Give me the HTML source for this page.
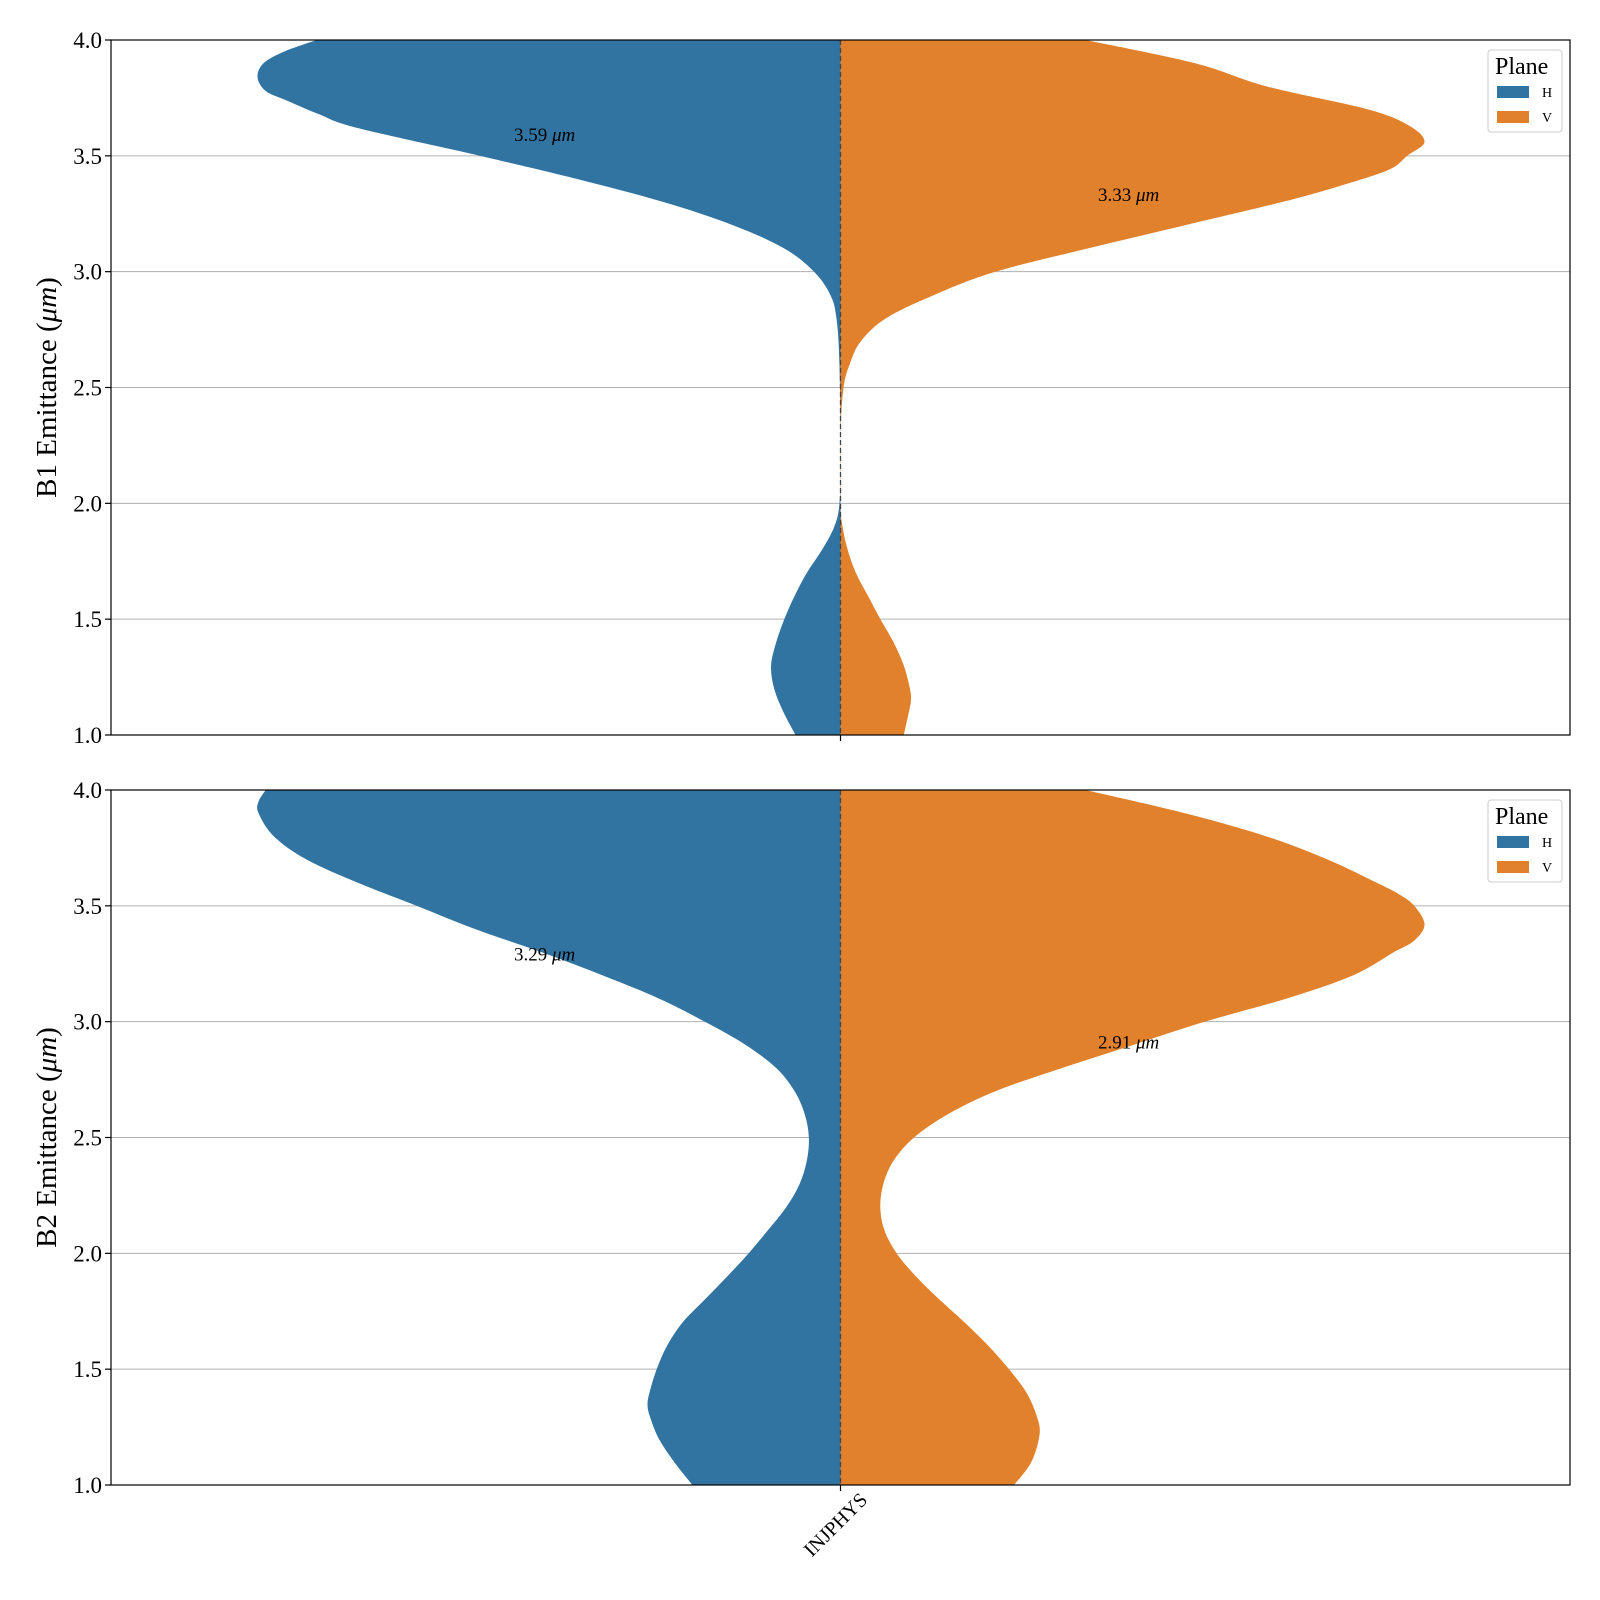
<!DOCTYPE html>
<html><head><meta charset="utf-8"><style>
body{margin:0;background:#fff}
svg{display:block;font-family:"Liberation Serif","DejaVu Serif",serif}
</style></head><body>
<svg id="chart" width="1600" height="1600" viewBox="0 0 1600 1600"></svg>
<script>
// data: y levels and half-width densities (arbitrary density units)
const b1Y_H=[4.0,3.95,3.9,3.84,3.78,3.74,3.68,3.62,3.5,3.4,3.3,3.2,3.1,3.0,2.9,2.8,2.6,2.2,2.0,1.9,1.8,1.7,1.6,1.5,1.4,1.3,1.2,1.1,1.0];
const b1D_H=[5.13,5.45,5.65,5.71,5.63,5.43,5.11,4.73,3.53,2.58,1.73,1.05,0.55,0.26,0.10,0.04,0.01,0,0.01,0.06,0.18,0.33,0.45,0.55,0.63,0.68,0.65,0.56,0.44];
const b1Y_V=[4.0,3.9,3.8,3.7,3.63,3.56,3.5,3.44,3.37,3.3,3.2,3.1,3.0,2.9,2.8,2.7,2.6,2.5,2.3,2.0,1.9,1.8,1.7,1.6,1.5,1.4,1.3,1.2,1.15,1.1,1.0];
const b1D_V=[2.40,3.47,4.17,5.17,5.57,5.72,5.55,5.37,4.89,4.32,3.37,2.42,1.52,0.92,0.45,0.20,0.09,0.03,0,0,0.02,0.07,0.15,0.27,0.39,0.52,0.62,0.68,0.69,0.67,0.62];
const b2Y_H=[4.0,3.95,3.9,3.8,3.7,3.6,3.5,3.4,3.3,3.2,3.1,3.0,2.9,2.8,2.7,2.6,2.5,2.4,2.3,2.2,2.1,2.0,1.9,1.8,1.7,1.6,1.5,1.4,1.35,1.3,1.2,1.1,1.0];
const b2D_H=[5.63,5.70,5.70,5.55,5.23,4.73,4.15,3.58,2.93,2.33,1.78,1.33,0.93,0.63,0.45,0.35,0.31,0.33,0.40,0.53,0.71,0.90,1.11,1.33,1.55,1.70,1.80,1.87,1.89,1.87,1.78,1.63,1.45];
const b2Y_V=[4.0,3.9,3.8,3.7,3.6,3.55,3.5,3.42,3.35,3.3,3.2,3.1,3.0,2.9,2.8,2.7,2.6,2.5,2.4,2.3,2.2,2.1,2.0,1.9,1.8,1.7,1.6,1.5,1.4,1.3,1.22,1.1,1.0];
const b2D_V=[2.40,3.37,4.17,4.77,5.25,5.47,5.62,5.72,5.62,5.42,5.02,4.37,3.57,2.87,2.17,1.52,1.05,0.72,0.52,0.42,0.39,0.43,0.55,0.74,0.97,1.22,1.45,1.65,1.82,1.92,1.95,1.87,1.70];
const yTicks=[1.0,1.5,2.0,2.5,3.0,3.5,4.0];
const yTickLabels=["1.0","1.5","2.0","2.5","3.0","3.5","4.0"];
const b1Medians=[3.59,3.33];
const b2Medians=[3.29,2.91];
const categories=["INJPHYS"];

const NS="http://www.w3.org/2000/svg";
const svg=document.getElementById('chart');
const L=111,R=1570,CX=(L+R)/2;
const wScale=102.1; // px per density unit
const colors=["#3274a1","#e1812c"];
function mk(tag,attrs,parent){const e=document.createElementNS(NS,tag);for(const k in attrs)e.setAttribute(k,attrs[k]);(parent||svg).appendChild(e);return e;}
function smooth(pts){
  let d='';
  for(let i=0;i<pts.length-1;i++){
    const p0=pts[Math.max(0,i-1)],p1=pts[i],p2=pts[i+1],p3=pts[Math.min(pts.length-1,i+2)];
    const c1x=p1[0]+(p2[0]-p0[0])/6,c1y=p1[1]+(p2[1]-p0[1])/6;
    const c2x=p2[0]-(p3[0]-p1[0])/6,c2y=p2[1]-(p3[1]-p1[1])/6;
    d+=' C'+c1x+','+c1y+' '+c2x+','+c2y+' '+p2[0]+','+p2[1];
  }
  return d;
}
function violin(ys,yArr,dArr,sign){
  const pts=yArr.map((y,i)=>[CX+sign*dArr[i]*wScale,ys(y)]);
  return 'M'+CX+','+ys(yArr[0])+' L'+pts[0][0]+','+pts[0][1]+smooth(pts)+' L'+CX+','+ys(yArr[yArr.length-1])+'Z';
}

function panel(top,bottom,ylab,yH,dH,yV,dV,meds,name,showX){
  const ys=v=>bottom-(v-1)/3*(bottom-top);
  const g=mk('g',{});
  
  
  yTicks.forEach((t,i)=>{
    const gl=mk('line',{x1:L,x2:R,y1:ys(t),y2:ys(t),stroke:'#b0b0b0','stroke-width':1},g);
    
    
    const tk=mk('line',{x1:L-6,x2:L,y1:ys(t),y2:ys(t),stroke:'#000','stroke-width':1.2},g);
    
    
    const tl=mk('text',{x:L-9,y:ys(t)+8,'text-anchor':'end','font-size':23},g);
    tl.textContent=yTickLabels[i];
    
    
  });
  const vh=mk('path',{d:violin(ys,yH,dH,-1),fill:colors[0]},g);
  
  
  const vv=mk('path',{d:violin(ys,yV,dV,1),fill:colors[1]},g);
  
  
  const cl=mk('line',{x1:CX,x2:CX,y1:top,y2:bottom,stroke:'#444','stroke-width':1.3,'stroke-dasharray':'5,3'},g);
  
  
  [[514,meds[0]],[1098,meds[1]]].forEach((m,i)=>{
    const t=mk('text',{x:m[0],y:ys(m[1])+6,'font-size':19},g);
    t.innerHTML=m[1].toFixed(2)+' <tspan font-style="italic">μm</tspan>';
    
    
  });
  const fr=mk('rect',{x:L,y:top,width:R-L,height:bottom-top,fill:'none',stroke:'#000','stroke-width':1.2},g);
  
  
  const xt=mk('line',{x1:CX,x2:CX,y1:bottom,y2:bottom+6,stroke:'#000','stroke-width':1.2},g);
  
  
  const yl=mk('text',{x:0,y:0,'font-size':29,'text-anchor':'middle',transform:'translate(56,'+((top+bottom)/2)+') rotate(-90)'},g);
  yl.innerHTML=ylab+' Emittance (<tspan font-style="italic">μm</tspan>)';
  
  
  const lg=mk('g',{},g);
  
  
  mk('rect',{x:1488,y:top+10,width:74,height:82,rx:3,fill:'#fff',stroke:'#ccc','stroke-width':1},lg);
  const lt=mk('text',{x:1495,y:top+34,'font-size':24},lg);
  lt.textContent='Plane';
  ['H','V'].forEach((n,i)=>{
    const r=mk('rect',{x:1497,y:top+46+i*25,width:32,height:12,fill:colors[i]},lg);
    
    
    const t=mk('text',{x:1542,y:top+57+i*25,'font-size':14},lg);
    t.textContent=n;
    
    
  });
  if(showX){
    const xl=mk('text',{x:0,y:0,'font-size':20,'text-anchor':'end',transform:'translate('+(CX+28)+','+(bottom+16)+') rotate(-45)'},g);
    xl.textContent=categories[0];
    
    
  }
}
panel(40,735,'B1',b1Y_H,b1D_H,b1Y_V,b1D_V,b1Medians,'b1-panel',false);
panel(790,1485,'B2',b2Y_H,b2D_H,b2Y_V,b2D_V,b2Medians,'b2-panel',true);
</script>
</body></html>
